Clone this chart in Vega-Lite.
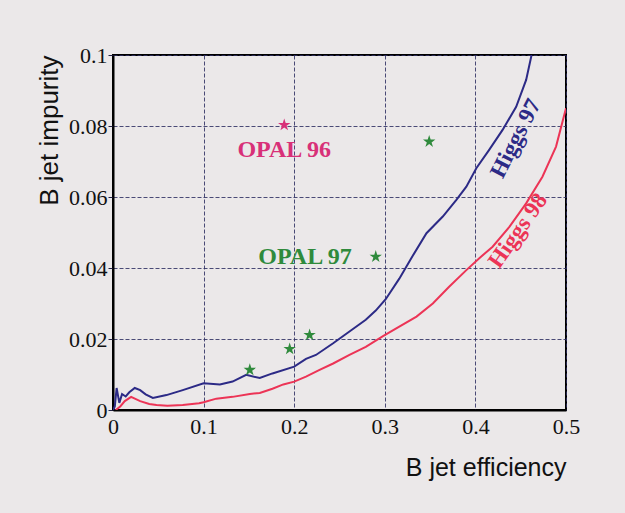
{
  "$schema": "https://vega.github.io/schema/vega-lite/v6.json",
  "width": 453,
  "height": 355,
  "autosize": {"type": "none"},
  "padding": {"left": 113, "top": 55, "right": 59, "bottom": 103},
  "background": "#ebe8e9",
  "config": {
    "view": {"stroke": "#000000", "strokeWidth": 2, "fill": "#ebe8e9"},
    "axis": {
      "labelFont": "Liberation Serif",
      "labelFontSize": 22,
      "labelColor": "#111111",
      "titleFont": "Liberation Sans",
      "titleFontSize": 25,
      "titleFontWeight": "normal",
      "titleColor": "#111111",
      "gridColor": "#2e2e62",
      "gridDash": [4, 2],
      "gridWidth": 1,
      "gridOpacity": 0.85,
      "domainColor": "#000000",
      "domainWidth": 2,
      "tickColor": "#222244",
      "labelFlush": false
    }
  },
  "datasets": {
    "curves": [
      {"series": "Higgs 97", "eff": 0.0, "imp": 0.0},
      {"series": "Higgs 97", "eff": 0.002, "imp": 0.001},
      {"series": "Higgs 97", "eff": 0.004, "imp": 0.0062},
      {"series": "Higgs 97", "eff": 0.007, "imp": 0.002},
      {"series": "Higgs 97", "eff": 0.010, "imp": 0.0045},
      {"series": "Higgs 97", "eff": 0.014, "imp": 0.0038},
      {"series": "Higgs 97", "eff": 0.018, "imp": 0.0050},
      {"series": "Higgs 97", "eff": 0.024, "imp": 0.0062},
      {"series": "Higgs 97", "eff": 0.030, "imp": 0.0056},
      {"series": "Higgs 97", "eff": 0.036, "imp": 0.0044},
      {"series": "Higgs 97", "eff": 0.044, "imp": 0.0034},
      {"series": "Higgs 97", "eff": 0.059, "imp": 0.0042},
      {"series": "Higgs 97", "eff": 0.077, "imp": 0.0056},
      {"series": "Higgs 97", "eff": 0.100, "imp": 0.0075},
      {"series": "Higgs 97", "eff": 0.118, "imp": 0.0072},
      {"series": "Higgs 97", "eff": 0.132, "imp": 0.0080},
      {"series": "Higgs 97", "eff": 0.147, "imp": 0.0099},
      {"series": "Higgs 97", "eff": 0.162, "imp": 0.0090},
      {"series": "Higgs 97", "eff": 0.176, "imp": 0.0103},
      {"series": "Higgs 97", "eff": 0.200, "imp": 0.0122},
      {"series": "Higgs 97", "eff": 0.213, "imp": 0.0144},
      {"series": "Higgs 97", "eff": 0.224, "imp": 0.0155},
      {"series": "Higgs 97", "eff": 0.243, "imp": 0.0188},
      {"series": "Higgs 97", "eff": 0.261, "imp": 0.0221},
      {"series": "Higgs 97", "eff": 0.279, "imp": 0.0254},
      {"series": "Higgs 97", "eff": 0.290, "imp": 0.0280},
      {"series": "Higgs 97", "eff": 0.301, "imp": 0.0312},
      {"series": "Higgs 97", "eff": 0.316, "imp": 0.0370},
      {"series": "Higgs 97", "eff": 0.331, "imp": 0.0435},
      {"series": "Higgs 97", "eff": 0.346, "imp": 0.0498},
      {"series": "Higgs 97", "eff": 0.364, "imp": 0.0545},
      {"series": "Higgs 97", "eff": 0.379, "imp": 0.0592},
      {"series": "Higgs 97", "eff": 0.390, "imp": 0.0629},
      {"series": "Higgs 97", "eff": 0.401, "imp": 0.0681},
      {"series": "Higgs 97", "eff": 0.415, "imp": 0.0732},
      {"series": "Higgs 97", "eff": 0.430, "imp": 0.0789},
      {"series": "Higgs 97", "eff": 0.445, "imp": 0.0854},
      {"series": "Higgs 97", "eff": 0.456, "imp": 0.0930},
      {"series": "Higgs 97", "eff": 0.462, "imp": 0.1000},
      {"series": "Higgs 98", "eff": 0.003, "imp": 0.0},
      {"series": "Higgs 98", "eff": 0.008, "imp": 0.001},
      {"series": "Higgs 98", "eff": 0.013, "imp": 0.0025},
      {"series": "Higgs 98", "eff": 0.020, "imp": 0.0037},
      {"series": "Higgs 98", "eff": 0.030, "imp": 0.0025},
      {"series": "Higgs 98", "eff": 0.040, "imp": 0.0017},
      {"series": "Higgs 98", "eff": 0.048, "imp": 0.0014},
      {"series": "Higgs 98", "eff": 0.060, "imp": 0.0012},
      {"series": "Higgs 98", "eff": 0.077, "imp": 0.0014},
      {"series": "Higgs 98", "eff": 0.095, "imp": 0.0019},
      {"series": "Higgs 98", "eff": 0.100, "imp": 0.0022},
      {"series": "Higgs 98", "eff": 0.114, "imp": 0.0032},
      {"series": "Higgs 98", "eff": 0.132, "imp": 0.0037},
      {"series": "Higgs 98", "eff": 0.151, "imp": 0.0045},
      {"series": "Higgs 98", "eff": 0.162, "imp": 0.0048},
      {"series": "Higgs 98", "eff": 0.176, "imp": 0.0060},
      {"series": "Higgs 98", "eff": 0.188, "imp": 0.0072},
      {"series": "Higgs 98", "eff": 0.200, "imp": 0.0080},
      {"series": "Higgs 98", "eff": 0.213, "imp": 0.0094},
      {"series": "Higgs 98", "eff": 0.228, "imp": 0.0113},
      {"series": "Higgs 98", "eff": 0.243, "imp": 0.0131},
      {"series": "Higgs 98", "eff": 0.261, "imp": 0.0155},
      {"series": "Higgs 98", "eff": 0.279, "imp": 0.0178},
      {"series": "Higgs 98", "eff": 0.298, "imp": 0.0208},
      {"series": "Higgs 98", "eff": 0.316, "imp": 0.0235},
      {"series": "Higgs 98", "eff": 0.335, "imp": 0.0263},
      {"series": "Higgs 98", "eff": 0.353, "imp": 0.0300},
      {"series": "Higgs 98", "eff": 0.371, "imp": 0.0347},
      {"series": "Higgs 98", "eff": 0.390, "imp": 0.0394},
      {"series": "Higgs 98", "eff": 0.404, "imp": 0.0427},
      {"series": "Higgs 98", "eff": 0.419, "imp": 0.0460},
      {"series": "Higgs 98", "eff": 0.4375, "imp": 0.0516},
      {"series": "Higgs 98", "eff": 0.456, "imp": 0.0582},
      {"series": "Higgs 98", "eff": 0.474, "imp": 0.0657},
      {"series": "Higgs 98", "eff": 0.489, "imp": 0.0742},
      {"series": "Higgs 98", "eff": 0.500, "imp": 0.0850}
    ],
    "stars": [
      {"series": "OPAL 96", "eff": 0.189, "imp": 0.0803},
      {"series": "OPAL 97", "eff": 0.151, "imp": 0.0113},
      {"series": "OPAL 97", "eff": 0.195, "imp": 0.0172},
      {"series": "OPAL 97", "eff": 0.217, "imp": 0.0211},
      {"series": "OPAL 97", "eff": 0.290, "imp": 0.0432},
      {"series": "OPAL 97", "eff": 0.349, "imp": 0.0756}
    ],
    "labels": [
      {"series": "OPAL 96", "eff": 0.189, "imp": 0.0732},
      {"series": "OPAL 97", "eff": 0.212, "imp": 0.0431},
      {"series": "Higgs 97", "eff": 0.4445, "imp": 0.0765},
      {"series": "Higgs 98", "eff": 0.447, "imp": 0.0505}
    ]
  },
  "encoding": {
    "x": {
      "field": "eff", "type": "quantitative",
      "scale": {"domain": [0, 0.5], "nice": false},
      "axis": {
        "title": "B jet efficiency",
        "titleAnchor": "end",
        "titlePadding": 18,
        "values": [0, 0.1, 0.2, 0.3, 0.4, 0.5],
        "labelExpr": "datum.value == 0 ? '0' : format(datum.value, '.1f')",
        "ticks": false,
        "labelPadding": 6
      }
    },
    "y": {
      "field": "imp", "type": "quantitative",
      "scale": {"domain": [0, 0.1], "nice": false},
      "axis": {
        "title": "B jet impurity",
        "titleAnchor": "end",
        "titlePadding": 6,
        "titleFontSize": 26,
        "values": [0, 0.02, 0.04, 0.06, 0.08, 0.1],
        "labelExpr": "datum.value == 0 ? '0' : datum.value == 0.1 ? '0.1' : format(datum.value, '.2f')",
        "tickSize": 5,
        "labelPadding": 1
      }
    },
    "color": {
      "field": "series", "type": "nominal",
      "scale": {"domain": ["Higgs 97", "Higgs 98", "OPAL 96", "OPAL 97"], "range": ["#2c2a86", "#ec3456", "#d83078", "#2f8a3c"]},
      "legend": null
    }
  },
  "layer": [
    {
      "data": {"name": "curves"},
      "mark": {"type": "line", "strokeWidth": 2, "clip": true}
    },
    {
      "data": {"name": "stars"},
      "mark": {"type": "point", "shape": "M0,-1L0.2245,-0.309L0.951,-0.309L0.363,0.118L0.588,0.809L0,0.382L-0.588,0.809L-0.363,0.118L-0.951,-0.309L-0.2245,-0.309Z", "filled": true, "size": 170, "opacity": 1}
    },
    {
      "data": {"name": "labels"},
      "transform": [{"filter": "datum.series == 'OPAL 96' || datum.series == 'OPAL 97'"}],
      "mark": {"type": "text", "font": "Liberation Serif", "fontWeight": "bold", "fontSize": 24, "align": "center", "baseline": "middle"},
      "encoding": {"text": {"field": "series"}}
    },
    {
      "data": {"name": "labels"},
      "transform": [{"filter": "datum.series == 'Higgs 97'"}],
      "mark": {"type": "text", "font": "Liberation Serif", "fontWeight": "bold", "fontSize": 23, "align": "center", "baseline": "middle", "angle": -63},
      "encoding": {"text": {"field": "series"}}
    },
    {
      "data": {"name": "labels"},
      "transform": [{"filter": "datum.series == 'Higgs 98'"}],
      "mark": {"type": "text", "font": "Liberation Serif", "fontWeight": "bold", "fontSize": 23, "align": "center", "baseline": "middle", "angle": -55},
      "encoding": {"text": {"field": "series"}}
    }
  ]
}
